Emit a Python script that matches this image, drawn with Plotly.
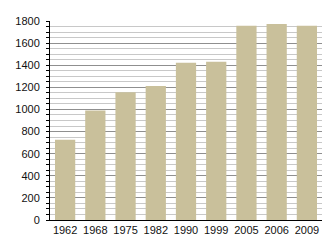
import plotly.graph_objects as go

years = ["1962", "1968", "1975", "1982", "1990", "1999", "2005", "2006", "2009"]
population = [725, 990, 1155, 1212, 1422, 1431, 1757, 1772, 1757]
y_ticks = [0, 200, 400, 600, 800, 1000, 1200, 1400, 1600, 1800]

fig = go.Figure(go.Bar(x=years, y=population, marker=dict(color="#c9c09b", line=dict(width=0))))

fig.update_layout(
    width=330, height=250,
    margin=dict(l=50, r=8, t=21, b=30),
    paper_bgcolor="white", plot_bgcolor="white",
    bargap=0.33,
    showlegend=False,
    font=dict(family="Liberation Sans, Arial, sans-serif", size=11, color="#111"),
)
fig.update_xaxes(
    type="category",
    showline=True, linecolor="black", linewidth=1,
    ticks="", showgrid=False,
    tickfont=dict(size=11),
)
fig.update_yaxes(
    range=[0, 1800],
    tickvals=y_ticks,
    showline=True, linecolor="black", linewidth=1,
    ticks="outside", ticklen=3, tickcolor="black",
    ticklabelstandoff=4,
    showgrid=True, gridcolor="#8f8f8f", gridwidth=1,
    minor=dict(dtick=50, showgrid=True, gridcolor="#c8c8c8", gridwidth=1,
               ticks="outside", ticklen=3, tickcolor="black"),
    zeroline=False,
    tickfont=dict(size=11),
)

fig.write_html("out.html")
